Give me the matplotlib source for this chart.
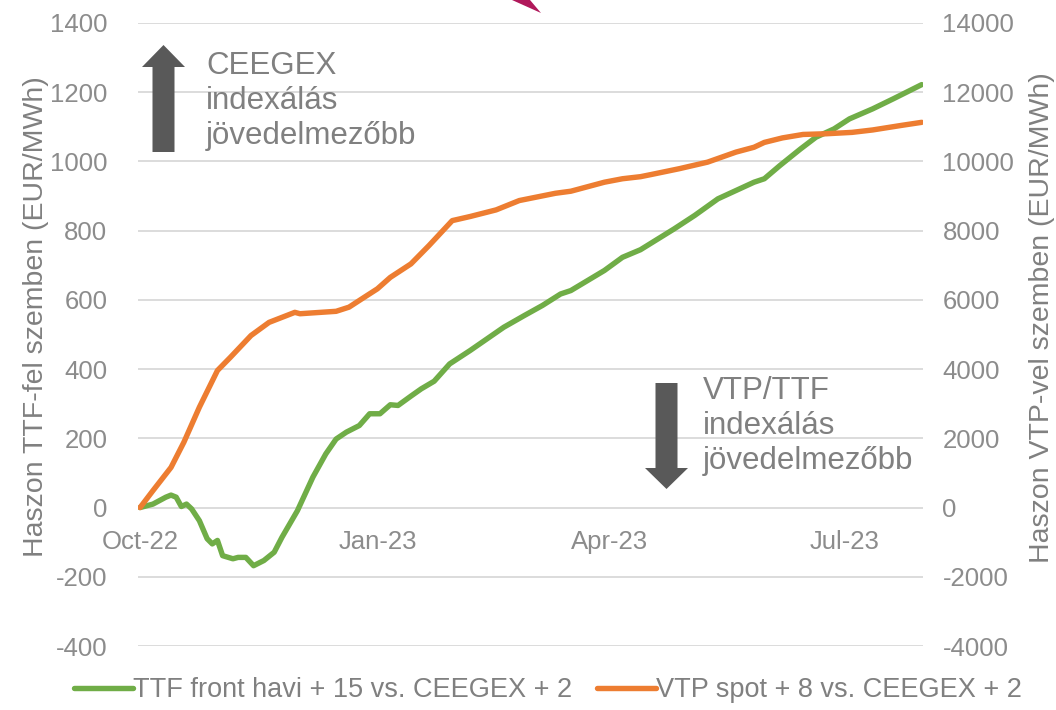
import numpy as np
import pandas as pd
import matplotlib

matplotlib.use("Agg")
import matplotlib.pyplot as plt
import matplotlib.dates as mdates
from matplotlib.patches import Polygon

plt.rcParams["font.family"] = ["Liberation Sans", "DejaVu Sans"]
plt.rcParams["axes.unicode_minus"] = False

# ── Data ──────────────────────────────────────────────────────────────────────
TTF_DATES = [
    "2022-10-01", "2022-10-06", "2022-10-11", "2022-10-13", "2022-10-15", "2022-10-17",
    "2022-10-19", "2022-10-21", "2022-10-24", "2022-10-27", "2022-10-29", "2022-10-31",
    "2022-11-02", "2022-11-06", "2022-11-08", "2022-11-11", "2022-11-14", "2022-11-18",
    "2022-11-22", "2022-11-25", "2022-12-01", "2022-12-07", "2022-12-12", "2022-12-16",
    "2022-12-20", "2022-12-25", "2022-12-29", "2023-01-02", "2023-01-06", "2023-01-09",
    "2023-01-14", "2023-01-18", "2023-01-23", "2023-01-29", "2023-02-06", "2023-02-19",
    "2023-02-27", "2023-03-06", "2023-03-13", "2023-03-17", "2023-03-30", "2023-04-06",
    "2023-04-13", "2023-04-26", "2023-05-04", "2023-05-13", "2023-05-20", "2023-05-27",
    "2023-05-31", "2023-06-06", "2023-06-14", "2023-06-20", "2023-06-27", "2023-07-03",
    "2023-07-12", "2023-07-20", "2023-07-31",
]
TTF_VALUES = [
    0, 10, 30, 36, 30, 3,
    10, -4, -38, -90, -105, -95,
    -139, -148, -144, -144, -168, -153,
    -129, -86, -9, 88, 155, 198,
    218, 237, 271, 271, 297, 295,
    322, 343, 365, 415, 454, 521,
    555, 584, 617, 627, 685, 723,
    745, 805, 844, 892, 916, 940,
    950, 988, 1036, 1070, 1094, 1123,
    1152, 1181, 1222,
]

VTP_DATES = [
    "2022-10-01", "2022-10-06", "2022-10-13", "2022-10-18", "2022-10-24", "2022-10-31",
    "2022-11-05", "2022-11-13", "2022-11-20", "2022-11-30", "2022-12-02", "2022-12-16",
    "2022-12-21", "2022-12-27", "2023-01-01", "2023-01-06", "2023-01-14", "2023-01-21",
    "2023-01-30", "2023-02-06", "2023-02-16", "2023-02-25", "2023-03-11", "2023-03-17",
    "2023-03-30", "2023-04-06", "2023-04-13", "2023-04-17", "2023-04-28", "2023-05-09",
    "2023-05-20", "2023-05-27", "2023-05-31", "2023-06-07", "2023-06-15", "2023-06-24",
    "2023-07-04", "2023-07-12", "2023-07-23", "2023-07-31",
]
VTP_VALUES = [
    0, 490, 1160, 1890, 2900, 3960,
    4340, 4970, 5350, 5640, 5600, 5670,
    5790, 6080, 6320, 6650, 7040, 7570,
    8290, 8410, 8600, 8870, 9080, 9140,
    9400, 9500, 9560, 9620, 9790, 9980,
    10270, 10410, 10550, 10680, 10780, 10800,
    10840, 10910, 11040, 11130,
]

X_TICKS = ["2022-10-01", "2023-01-01", "2023-04-01", "2023-07-01"]
LEFT_TICKS = list(range(-400, 1401, 200))
RIGHT_TICKS = list(range(-4000, 14001, 2000))

TTF_LABEL = "TTF front havi + 15 vs. CEEGEX + 2"
VTP_LABEL = "VTP spot + 8 vs. CEEGEX + 2"

# ── Style ─────────────────────────────────────────────────────────────────────
GREEN, ORANGE = "#70ad47", "#ed7d31"
TICK_C, TEXT_C, GRID_C, ARROW_C = "#8c8c8c", "#808080", "#dcdcdc", "#595959"
W, H = 1056, 710

fig = plt.figure(figsize=(W / 100, H / 100), dpi=100)
fig.patch.set_facecolor("white")
ax = fig.add_axes([138 / W, 1 - 646 / H, (923 - 138) / W, (646 - 23) / H])
ax2 = ax.twinx()

t0 = pd.Timestamp("2022-10-01")
ax.set_xlim(t0 - pd.Timedelta(days=0.8), t0 + pd.Timedelta(days=303.5))
ax.set_ylim(-400, 1400)
ax2.set_ylim(-4000, 14000)

ax.plot(pd.to_datetime(TTF_DATES), TTF_VALUES, color=GREEN, lw=3.9,
        solid_capstyle="round", solid_joinstyle="round", zorder=3, label=TTF_LABEL)
ax2.plot(pd.to_datetime(VTP_DATES), VTP_VALUES, color=ORANGE, lw=3.9,
         solid_capstyle="round", solid_joinstyle="round", zorder=3, label=VTP_LABEL)

ax.set_yticks(LEFT_TICKS)
ax2.set_yticks(RIGHT_TICKS)
ax.grid(axis="y", color=GRID_C, lw=1.4, zorder=0)
ax.set_axisbelow(True)

ax.set_xticks(pd.to_datetime(X_TICKS))
ax.xaxis.set_major_formatter(mdates.DateFormatter("%b-%y"))
ax.spines["bottom"].set_position(("data", 0))

for a in (ax, ax2):
    for s in a.spines.values():
        s.set_color("none")
ax.tick_params(axis="x", length=0, pad=16, labelsize=18.5, labelcolor=TICK_C)
ax.tick_params(axis="y", length=0, pad=22, labelsize=18.5, labelcolor=TICK_C)
ax2.tick_params(axis="y", length=0, pad=14, labelsize=18.5, labelcolor=TICK_C)

fig.text(36 / W, 1 - 317 / H, "Haszon TTF-fel szemben (EUR/MWh)", rotation=90,
         ha="center", va="center", fontsize=20.5, color=TEXT_C)
fig.text(1042 / W, 1 - 318 / H, "Haszon VTP-vel szemben (EUR/MWh)", rotation=90,
         ha="center", va="center", fontsize=20.5, color=TEXT_C)

# ── Annotations in pixel space ────────────────────────────────────────────────
ov = fig.add_axes([0, 0, 1, 1], zorder=5)
ov.set_xlim(0, W)
ov.set_ylim(H, 0)
ov.axis("off")


def block_arrow(xc, y_tail, y_tip, shaft_w, head_w, head_len):
    d = 1 if y_tip > y_tail else -1
    yb = y_tip - d * head_len
    pts = [(xc - shaft_w / 2, y_tail), (xc + shaft_w / 2, y_tail), (xc + shaft_w / 2, yb),
           (xc + head_w / 2, yb), (xc, y_tip), (xc - head_w / 2, yb), (xc - shaft_w / 2, yb)]
    ov.add_patch(Polygon(pts, closed=True, color=ARROW_C, lw=0))


block_arrow(163.5, 152, 45, 22, 43, 22)
block_arrow(666.5, 383, 489, 22, 43, 21)
ov.text(206, 101, "CEEGEX\nindexálás\njövedelmezőbb", fontsize=22.5, color=TEXT_C,
        va="center", ha="left", linespacing=1.23)
ov.text(703, 426, "VTP/TTF\nindexálás\njövedelmezőbb", fontsize=22.5, color=TEXT_C,
        va="center", ha="left", linespacing=1.23)
# clipped arrow tip peeking in from above the chart
ov.add_patch(Polygon([(512, 0), (530, 0), (541, 13)], closed=True, color="#b0185a", lw=0))

h1, l1 = ax.get_legend_handles_labels()
h2, l2 = ax2.get_legend_handles_labels()
fig.legend(h1 + h2, l1 + l2, loc="center", bbox_to_anchor=(548 / W, 1 - 690 / H),
           ncol=2, frameon=False, fontsize=19.5, labelcolor=TEXT_C,
           handlelength=2.2, handletextpad=0.0, columnspacing=0.9)

fig.savefig("out.png", dpi=100, facecolor="white")
